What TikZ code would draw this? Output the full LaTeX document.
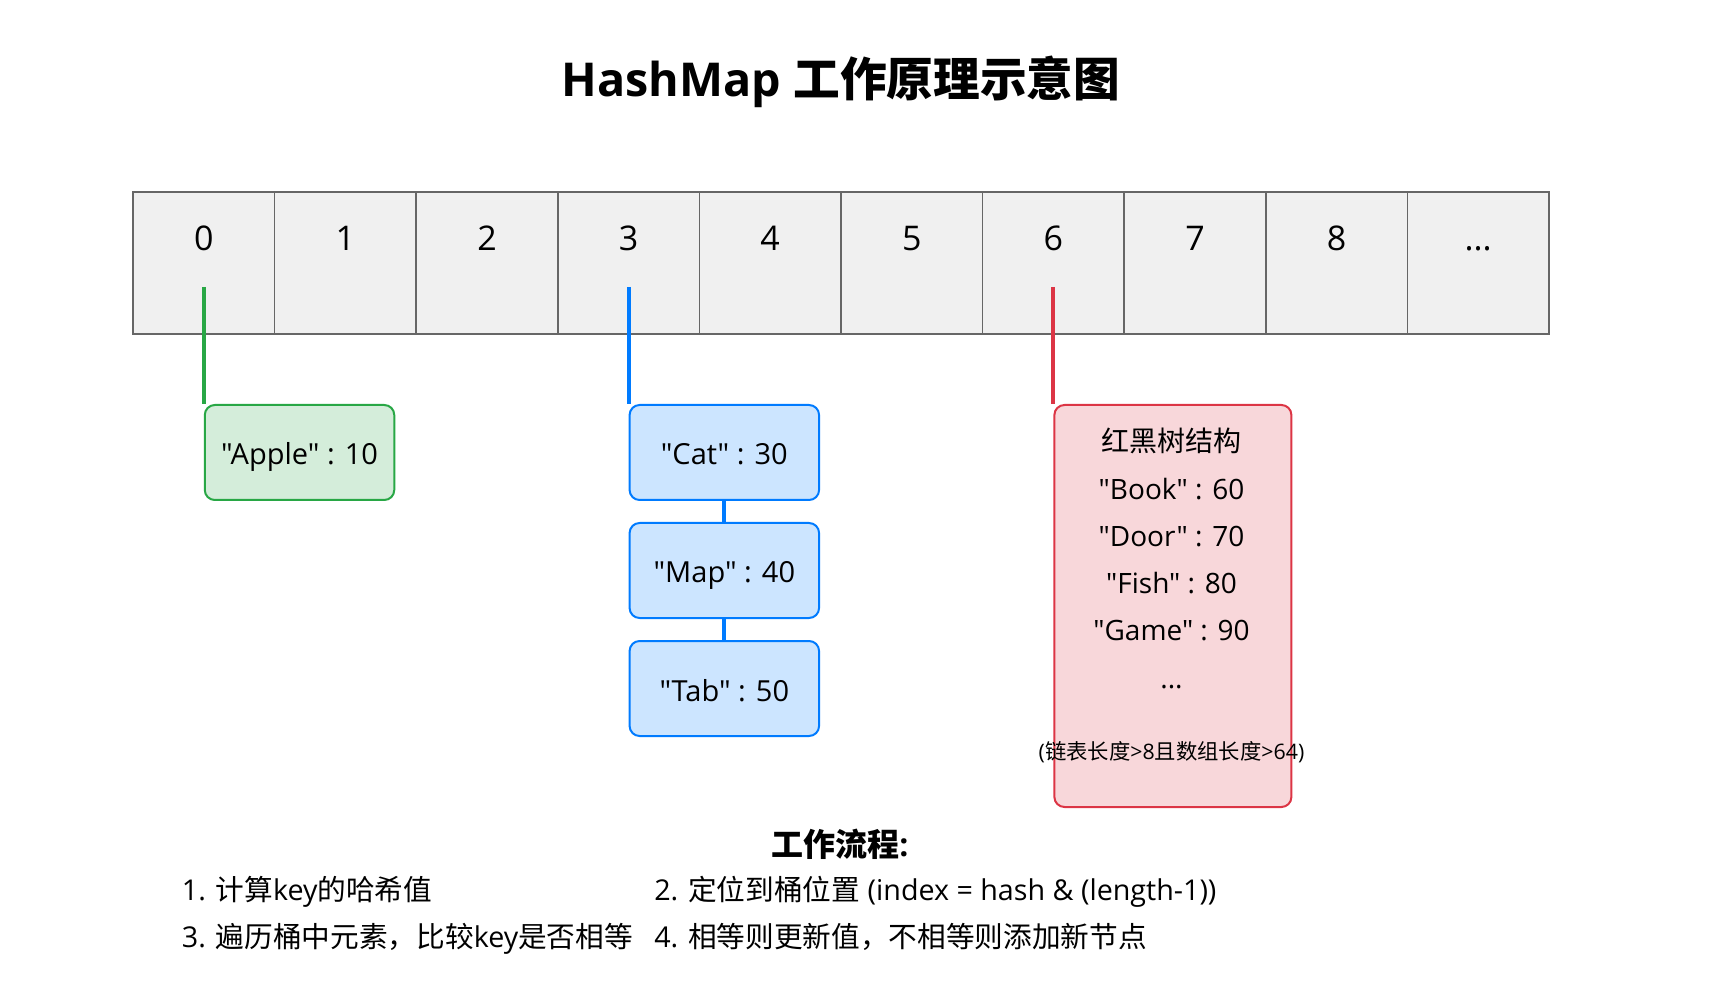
\documentclass[tikz,border=0pt]{standalone}
\usepackage{fontspec}
\newfontfamily\lat{Open Sans}
\newfontfamily\cjkfont{Noto Sans CJK SC}
\newcommand\zhs[1]{{\cjkfont #1}}
\definecolor{cellfill}{HTML}{F0F0F0}
\definecolor{cellline}{HTML}{666666}
\definecolor{gstroke}{HTML}{28A745}
\definecolor{gfill}{HTML}{D4EDDA}
\definecolor{bstroke}{HTML}{007BFF}
\definecolor{bfill}{HTML}{CCE5FF}
\definecolor{rstroke}{HTML}{DC3545}
\definecolor{rfill}{HTML}{F8D7DA}
\begin{document}
\begin{tikzpicture}[x=0.75pt,y=-0.75pt,
  cell/.style={draw=cellline, fill=cellfill, line width=1.3pt, minimum width=106.2pt, minimum height=106.3pt, inner sep=0pt},
  idx/.style={anchor=base, inner sep=0pt, font=\lat\fontsize{25.5}{30}\selectfont},
  ebox/.style={rounded corners=7.5pt, line width=1.5pt, minimum width=142.1pt, minimum height=71.25pt, anchor=north west, inner sep=0pt, text height=18.75pt, text depth=0pt, font=\lat\fontsize{21.75}{26}\selectfont},
  gbox/.style={ebox, draw=gstroke, fill=gfill},
  bbox/.style={ebox, draw=bstroke, fill=bfill},
  rbox/.style={rounded corners=7.5pt, line width=1.5pt, draw=rstroke, fill=rfill, minimum width=177.75pt, minimum height=301.5pt, anchor=north west, inner sep=0pt},
  rtext/.style={anchor=base, inner sep=0pt, font=\lat\fontsize{21}{25}\selectfont},
  rnote/.style={anchor=base, inner sep=0pt, font=\lat\fontsize{16}{19}\selectfont},
  gline/.style={draw=gstroke, line width=3pt},
  bline/.style={draw=bstroke, line width=3pt},
  rline/.style={draw=rstroke, line width=3pt},
  ttl/.style={anchor=base, inner sep=0pt, font=\lat\fontsize{35}{42}\selectfont\bfseries},
  hd/.style={anchor=base, inner sep=0pt, font=\lat\fontsize{24}{29}\selectfont\bfseries},
  stepline/.style={anchor=base west, inner sep=0pt, font=\lat\fontsize{21.5}{26}\selectfont}
]
\useasboundingbox (0,0) rectangle (1721,994);

\node[ttl] (title) at (841,97) {HashMap \zhs{工作原理示意图}};

\foreach \i in {0,1,2,3,4,5,6,7,8,9} {
  \node[cell] (c\i) at ({133+141.6*(\i+0.5)},262.85) {};
}
\foreach \i in {0,1,2,3,4,5,6,7,8} {
  \node[idx] (d\i) at ({133+141.6*(\i+0.5)},251) {\i};
}
\node[idx] (d9) at ({133+141.6*9.5},251) {.{}.{}.};

% bucket 0
\node[gbox] (apple) at (203.8,404) {"Apple" : 10};
\coordinate (s0) at (203.8,287);
\draw[gline] (s0) -- (apple.north west);

% bucket 3
\node[bbox] (cat) at (628.6,404) {"Cat" : 30};
\node[bbox] (map) at (628.6,522) {"Map" : 40};
\node[bbox] (tab) at (628.6,640) {"Tab" : 50};
\coordinate (s3) at (628.6,287);
\draw[bline] (s3) -- (cat.north west);
\draw[bline] (cat.south) -- (map.north);
\draw[bline] (map.south) -- (tab.north);

% bucket 6
\node[rbox] (rbt) at (1053.4,404) {};
\coordinate (s6) at (1053.4,287);
\draw[rline] (s6) -- (rbt.north west);
\node[rtext] (r0) at (1171.5,452) {\zhs{红黑树结构}};
\node[rtext] (r1) at (1171.5,499.3) {"Book" : 60};
\node[rtext] (r2) at (1171.5,546.5) {"Door" : 70};
\node[rtext] (r3) at (1171.5,593.7) {"Fish" : 80};
\node[rtext] (r4) at (1171.5,640.9) {"Game" : 90};
\node[rtext] (r5) at (1171.5,688) {.{}.{}.};
\node[rnote] (r6) at (1171.5,759) {(\zhs{链表长度}>8\zhs{且数组长度}>64)};

% workflow
\node[hd] (wf) at (840,856) {\zhs{工作流程}:};
\node[stepline] (w1) at (181.6,900) {1. \zhs{计算}key\zhs{的哈希值}};
\node[stepline] (w2) at (654,900) {2. \zhs{定位到桶位置} (index = hash \& (length-1))};
\node[stepline] (w3) at (181.6,947) {3. \zhs{遍历桶中元素，比较}key\zhs{是否相等}};
\node[stepline] (w4) at (654,947) {4. \zhs{相等则更新值，不相等则添加新节点}};
\end{tikzpicture}
\end{document}
